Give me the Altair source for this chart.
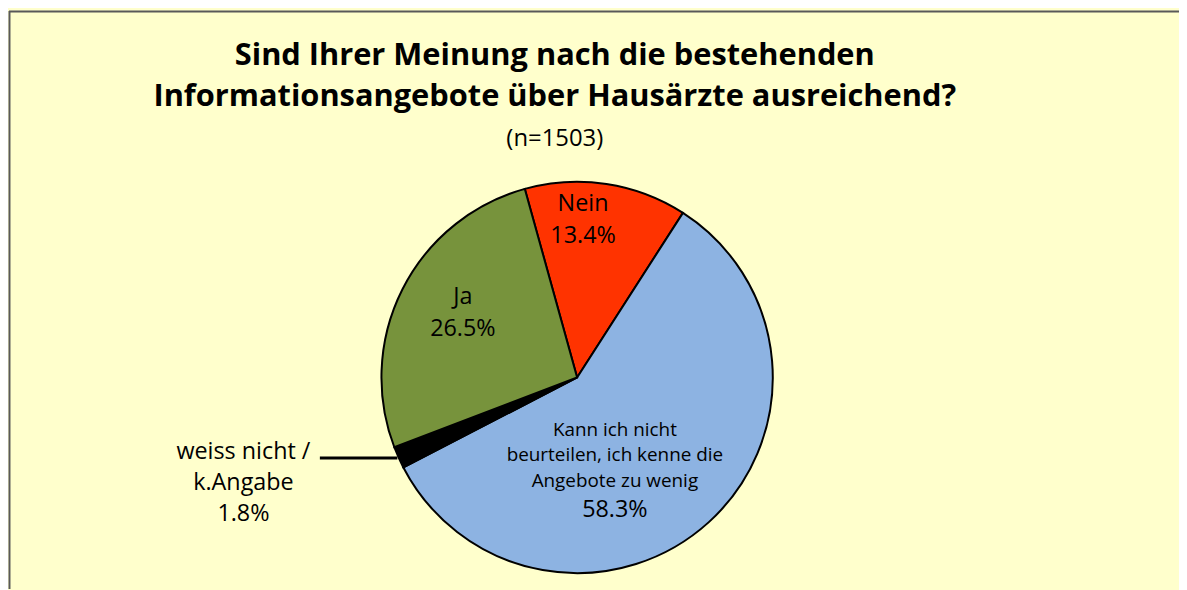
import math
import altair as alt
import pandas as pd

# ---- data -------------------------------------------------------------
categories = ["Nein", "Kann ich nicht beurteilen, ich kenne die Angebote zu wenig",
              "weiss nicht / k.Angabe", "Ja"]
values = [13.4, 58.3, 1.8, 26.5]
slice_order = [0, 1, 2, 3]
colors = ["#FF3300", "#8DB3E2", "#000000", "#77933C"]

title_lines = ["Sind Ihrer Meinung nach die bestehenden",
               "Informationsangebote über Hausärzte ausreichend?"]
subtitle = "(n=1503)"

df = pd.DataFrame({"cat": categories, "value": values, "order": slice_order})

W, H = 1179, 582
CX, CY, R = 572, 369, 197
FONT = "Open Sans"
START = 2 * math.pi + math.radians(-15.5)
theta_scale = alt.Scale(domain=[0, 100], range=[START, START + 2 * math.pi])
color_scale = alt.Scale(domain=categories, range=colors)

base = alt.Chart(df)

pie = base.mark_arc(x=CX, y=CY, radius=R, stroke="#000000", strokeWidth=2).encode(
    theta=alt.Theta("value:Q", stack=True, scale=theta_scale),
    color=alt.Color("cat:N", scale=color_scale, legend=None),
    order=alt.Order("order:Q"),
)

mid_base = base.transform_window(
    cum="sum(value)", sort=[alt.SortField("order")], frame=[None, 0]
).transform_calculate(mid="datum.cum - datum.value / 2")


def label(cat, lines, radius, dx, dy, size, line_height):
    return mid_base.transform_filter(alt.datum.cat == cat).mark_text(
        x=CX, y=CY, radius=radius, dx=dx, dy=dy, text=lines, font=FONT,
        fontSize=size, lineHeight=line_height, align="center", baseline="middle",
        color="#000000",
    ).encode(theta=alt.Theta("mid:Q", scale=theta_scale))


pct = {c: f"{v}%" for c, v in zip(categories, values)}

lab_nein = label(categories[0], ["Nein", pct[categories[0]]], 150, -16.5, -26.7, 23.5, 33)
lab_ja = label(categories[3], ["Ja", pct[categories[3]]], 135, 5.5, -20.1, 23.5, 32)
lab_kann = label(categories[1], ["Kann ich nicht", "beurteilen, ich kenne die", "Angebote zu wenig"],
                 100, -29.3, -20.9, 19, 25.5)
lab_kann_pct = label(categories[1], [pct[categories[1]]], 100, -29.3, 59.5, 23.5, 24)
lab_weiss = label(categories[2], ["weiss nicht /", "k.Angabe", pct[categories[2]]],
                  340, -25.7, -64.1, 23.5, 31.5)

one = alt.Chart(pd.DataFrame({"k": [0]}))

leader = one.mark_rule(color="#000000", strokeWidth=3).encode(
    x=alt.value(313), x2=alt.value(391), y=alt.value(450)
)

title1 = one.mark_text(text=title_lines[0], font=FONT, fontSize=31, fontWeight="bold",
                       align="center", baseline="middle", color="#000000").encode(
    x=alt.value(549.5), y=alt.value(45))
title2 = one.mark_text(text=title_lines[1], font=FONT, fontSize=31, fontWeight="bold",
                       align="center", baseline="middle", color="#000000").encode(
    x=alt.value(549.5), y=alt.value(87))
sub = one.mark_text(text=subtitle, font=FONT, fontSize=24, align="center",
                    baseline="middle", color="#000000").encode(
    x=alt.value(549.5), y=alt.value(128.7))

border_top = one.mark_rule(color="#595959", strokeWidth=2).encode(
    x=alt.value(0), x2=alt.value(W), y=alt.value(0.5))
border_left = one.mark_rule(color="#595959", strokeWidth=2).encode(
    x=alt.value(0.5), y=alt.value(0), y2=alt.value(H))

chart = alt.layer(
    pie, lab_nein, lab_ja, lab_kann, lab_kann_pct, lab_weiss, leader,
    title1, title2, sub, border_top, border_left,
).properties(
    width=W, height=H,
    autosize=alt.AutoSizeParams(type="fit", contains="padding"),
    padding=0,
    background="#FFFFCC",
).configure_view(stroke=None)

chart.save("out.html", embed_options={"renderer": "svg", "actions": False})
